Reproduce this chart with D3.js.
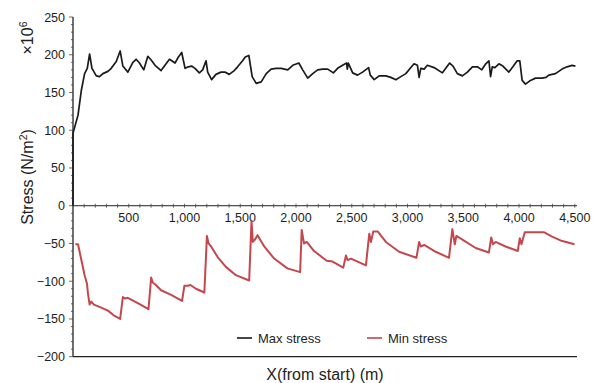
<!DOCTYPE html>
<html>
<head>
<meta charset="utf-8">
<script src="https://cdn.jsdelivr.net/npm/d3@7"></script>
<style>
  body { margin: 0; background: #fff; }
  text { font-family: "Liberation Sans", Arial, sans-serif; fill: #1e1e1e; }
</style>
</head>
<body>
<div id="chart"></div>
<script>
/* Data: distance (m), stress (x10^6 N/m2). */
const maxX = [0, 0, 45, 75, 104, 128, 149, 170, 209, 238, 268, 313, 343, 388, 423, 447, 492, 537, 566, 596, 635, 671, 701, 736, 790, 835, 865, 886, 915, 945, 975, 1005, 1035, 1064, 1094, 1133, 1163, 1193, 1208, 1243, 1282, 1327, 1362, 1401, 1446, 1476, 1521, 1545, 1577, 1607, 1643, 1688, 1733, 1777, 1822, 1867, 1926, 1971, 2025, 2060, 2105, 2150, 2194, 2239, 2284, 2335, 2373, 2418, 2442, 2454, 2460, 2469, 2508, 2552, 2597, 2651, 2666, 2701, 2746, 2806, 2851, 2895, 2940, 2985, 3030, 3059, 3089, 3104, 3119, 3149, 3178, 3238, 3313, 3348, 3378, 3408, 3447, 3492, 3537, 3582, 3627, 3666, 3702, 3730, 3745, 3760, 3784, 3820, 3855, 3909, 3945, 3984, 4007, 4028, 4058, 4103, 4148, 4207, 4243, 4267, 4327, 4386, 4431, 4476, 4506]
const maxStress = [0, 96, 120, 153, 175, 182, 201, 182, 172, 171, 175, 178, 182, 191, 205, 185, 177, 190, 194, 189, 180, 198, 193, 186, 179, 188, 194, 192, 189, 197, 203, 182, 184, 185, 182, 176, 180, 192, 177, 167, 174, 177, 177, 174, 179, 184, 192, 197, 199, 171, 162, 164, 175, 181, 182, 182, 180, 186, 189, 180, 169, 175, 180, 181, 181, 176, 182, 186, 188, 189, 181, 189, 176, 173, 177, 183, 173, 167, 172, 172, 170, 167, 171, 175, 183, 188, 186, 170, 182, 181, 186, 183, 176, 183, 189, 185, 175, 172, 177, 184, 184, 180, 188, 192, 171, 184, 183, 188, 185, 177, 184, 192, 192, 166, 161, 166, 169, 169, 170, 173, 175, 181, 184, 186, 185]

const minX = [21, 45, 75, 104, 125, 134, 149, 164, 188, 253, 313, 373, 423, 447, 468, 492, 581, 677, 701, 716, 736, 790, 880, 978, 999, 1029, 1053, 1103, 1178, 1201, 1216, 1243, 1297, 1371, 1461, 1580, 1601, 1613, 1631, 1655, 1715, 1804, 1923, 2037, 2051, 2072, 2096, 2162, 2275, 2328, 2424, 2448, 2463, 2493, 2627, 2657, 2672, 2693, 2732, 2806, 2925, 3080, 3104, 3119, 3149, 3253, 3372, 3402, 3424, 3438, 3492, 3611, 3730, 3751, 3766, 3790, 3879, 3989, 4007, 4022, 4052, 4192, 4222, 4297, 4372, 4497]
const minStress = [-51, -51, -72, -92, -103, -116, -131, -127, -131, -135, -139, -146, -150, -121, -123, -122, -129, -137, -95, -102, -104, -112, -118, -126, -106, -106, -105, -110, -115, -40, -50, -55, -68, -81, -92, -99, -20, -48, -45, -39, -54, -70, -83, -88, -32, -50, -48, -60, -73, -74, -82, -66, -72, -70, -79, -37, -48, -34, -34, -48, -61, -69, -48, -54, -52, -61, -69, -31, -51, -40, -45, -56, -62, -42, -51, -48, -54, -60, -43, -51, -35, -35, -35, -41, -46, -51]

const xTicks = [500, 1000, 1500, 2000, 2500, 3000, 3500, 4000, 4500]
const yTicks = [-200, -150, -100, -50, 0, 50, 100, 150, 200, 250]
const seriesNames = ["Max stress", "Min stress"]
const seriesColors = ["#1a1a1a", "#c4474d"]

/* Define svg-size. */
const width = 596
const height = 383

const svg = d3.select("#chart")
  .append("svg")
  .attr("width", width)
  .attr("height", height)

/* Scales. */
const x = d3.scaleLinear().domain([0, 4520]).range([73, 577])
const y = d3.scaleLinear().domain([-200, 250]).range([356.7, 17])

const fmt = d => d3.format(",")(d).replace("-", "\u2212")

/* Y axis line with major and minor ticks. */
svg.append("line")
  .attr("x1", x(0)).attr("x2", x(0))
  .attr("y1", y(250)).attr("y2", y(-200))
  .attr("stroke", "#222").attr("stroke-width", 1.3)

svg.selectAll(".yminor")
  .data(d3.range(-200, 251, 10))
  .enter()
  .append("line")
  .attr("x1", d => d % 50 === 0 ? x(0) - 4 : x(0) - 2)
  .attr("x2", x(0))
  .attr("y1", d => y(d)).attr("y2", d => y(d))
  .attr("stroke", "#444").attr("stroke-width", 0.8)

svg.selectAll(".ylabel")
  .data(yTicks)
  .enter()
  .append("text")
  .attr("x", x(0) - 8)
  .attr("y", d => y(d) + 4.5)
  .attr("text-anchor", "end")
  .attr("font-size", "12.5px")
  .text(fmt)

/* X axis at zero and the bottom frame line. */
svg.append("line")
  .attr("x1", x(0)).attr("x2", x(4520))
  .attr("y1", y(0)).attr("y2", y(0))
  .attr("stroke", "#222").attr("stroke-width", 1)

svg.append("line")
  .attr("x1", x(0)).attr("x2", x(4520))
  .attr("y1", y(-200)).attr("y2", y(-200))
  .attr("stroke", "#222").attr("stroke-width", 1.3)

svg.selectAll(".xminor")
  .data(d3.range(100, 4501, 100))
  .enter()
  .append("line")
  .attr("x1", d => x(d)).attr("x2", d => x(d))
  .attr("y1", y(0) - 2).attr("y2", y(0) + 2)
  .attr("stroke", "#444").attr("stroke-width", 0.8)

svg.selectAll(".xlabel")
  .data(xTicks)
  .enter()
  .append("text")
  .attr("x", d => x(d))
  .attr("y", y(0) + 16)
  .attr("text-anchor", "middle")
  .attr("font-size", "12.5px")
  .text(fmt)

/* Lines. */
const line = d3.line()
  .x(d => x(d[0]))
  .y(d => y(d[1]))

const series = [
  d3.zip(maxX, maxStress),
  d3.zip(minX, minStress)
]

svg.selectAll(".series")
  .data(series)
  .enter()
  .append("path")
  .attr("d", line)
  .attr("fill", "none")
  .attr("stroke", (d, i) => seriesColors[i])
  .attr("stroke-width", (d, i) => i === 0 ? 1.7 : 2)
  .attr("stroke-linejoin", "round")

/* Legend. */
const legend = svg.selectAll(".legend")
  .data(seriesNames)
  .enter()
  .append("g")
  .attr("transform", (d, i) => `translate(${237 + i * 130}, 338)`)

legend.append("line")
  .attr("x1", 0).attr("x2", 15)
  .attr("stroke", (d, i) => seriesColors[i])
  .attr("stroke-width", 1.6)

legend.append("text")
  .attr("x", 21)
  .attr("y", 4.5)
  .attr("font-size", "13px")
  .text(d => d)

/* Axis titles. */
svg.append("text")
  .attr("x", 325)
  .attr("y", 380)
  .attr("text-anchor", "middle")
  .attr("font-size", "16px")
  .text("X(from start) (m)")

const yTitle = svg.append("text")
  .attr("transform", "translate(33, 177) rotate(-90)")
  .attr("text-anchor", "middle")
  .attr("font-size", "16px")
yTitle.append("tspan").text("Stress (N/m")
yTitle.append("tspan").attr("font-size", "10.5px").attr("dy", -6).text("2")
yTitle.append("tspan").attr("dy", 6).text(")")

const scaleTitle = svg.append("text")
  .attr("transform", "translate(33, 38) rotate(-90)")
  .attr("text-anchor", "middle")
  .attr("font-size", "16px")
scaleTitle.append("tspan").text("\u00d710")
scaleTitle.append("tspan").attr("font-size", "10.5px").attr("dy", -6).text("6")
</script>
</body>
</html>
